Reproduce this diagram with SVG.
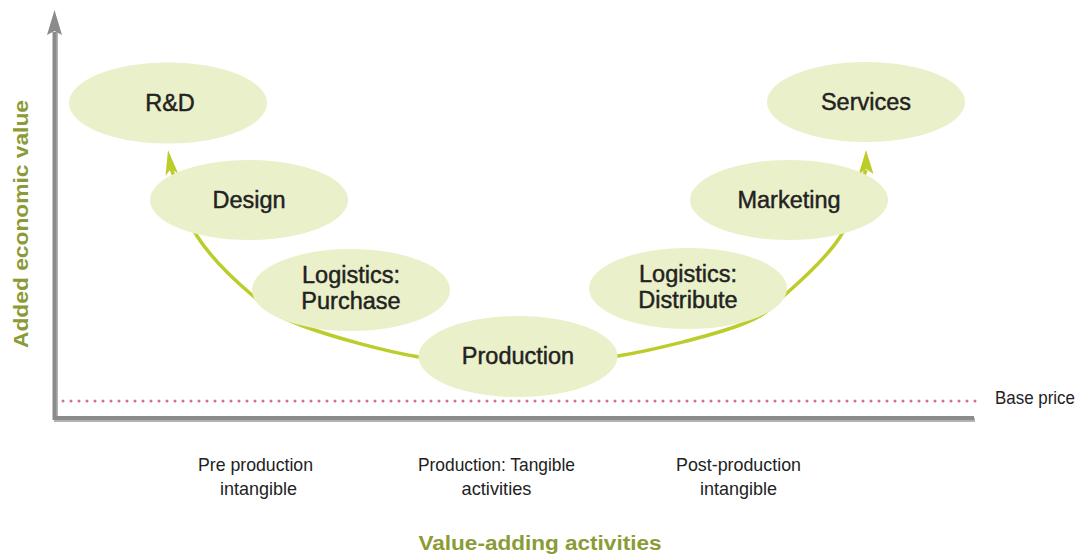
<svg xmlns="http://www.w3.org/2000/svg" width="1083" height="555" viewBox="0 0 1083 555">
<style>
.node ellipse{fill:#eaf0c9;}
.node text{font-family:"Liberation Sans",Arial,sans-serif;font-size:23.5px;fill:#222;stroke:#222;stroke-width:0.45;text-anchor:middle;}
.lbl{font-family:"Liberation Sans Narrow","Liberation Sans",Arial,sans-serif;font-size:19px;fill:#222;text-anchor:middle;}
.axlbl{font-family:"Liberation Sans",Arial,sans-serif;font-weight:bold;font-size:21px;fill:#8a9b37;text-anchor:middle;}
.curve{fill:none;stroke:#bccd2b;stroke-width:3.5;}
.head{fill:#bccd2b;}
</style>
<rect width="1083" height="555" fill="#ffffff"/>
<g id="axes">
  <polyline points="56,32 56,420 975,420" fill="none" stroke="#b3b3b5" stroke-width="4"/>
  <polyline points="54.5,32 54.5,418 974,418" fill="none" stroke="#8b8b8d" stroke-width="4"/>
  <polygon points="54.5,10 62,35 54.5,31 47,35" fill="#8b8b8d"/>
  <line x1="63" y1="401" x2="976" y2="401" stroke="#d6708f" stroke-width="3" stroke-linecap="round" stroke-dasharray="0 8"/>
  <text class="lbl" x="1035" y="404" textLength="80" lengthAdjust="spacingAndGlyphs">Base price</text>
</g>
<g id="connectors">
  <path class="curve" d="M171,168 C179.7,190.7 183.5,214.8 197,236 C210.5,257.2 234.3,280 252,295 C269.7,310 275.2,315.7 303,326 C330.8,336.3 383.2,351 419,357 C454.8,363 484.8,362.2 518,362 C551.2,361.8 581,362.2 618,356 C655,349.8 711.8,335.5 740,325 C768.2,314.5 770.3,307.7 787,293 C803.7,278.3 826.8,257.5 840,237 C853.2,216.5 857.3,192.3 866,170"/>
  <polygon class="head" points="168,150 178.3,173.7 171,168.8 165.5,175.7"/>
  <polygon class="head" points="866,150 873.5,174 866,169 858.5,175"/>
</g>
<g id="rd" class="node"><ellipse cx="168" cy="103" rx="99" ry="40.5"/><text x="170" y="111">R&amp;D</text></g>
<g id="design" class="node"><ellipse cx="249" cy="200" rx="99" ry="40"/><text x="249" y="208">Design</text></g>
<g id="purchase" class="node"><ellipse cx="351" cy="290" rx="99" ry="41"/><text x="351" y="283">Logistics:</text><text x="351" y="309">Purchase</text></g>
<g id="production" class="node"><ellipse cx="518" cy="356.5" rx="99.5" ry="40.5"/><text x="518" y="364">Production</text></g>
<g id="distribute" class="node"><ellipse cx="688" cy="288.5" rx="99" ry="40.5"/><text x="688" y="282">Logistics:</text><text x="688" y="308">Distribute</text></g>
<g id="marketing" class="node"><ellipse cx="789" cy="200" rx="99" ry="40"/><text x="789" y="208">Marketing</text></g>
<g id="services" class="node"><ellipse cx="866" cy="102" rx="99" ry="40"/><text x="866" y="110">Services</text></g>
<g id="labels">
  <text class="lbl" x="255.5" y="470.5" textLength="115" lengthAdjust="spacingAndGlyphs">Pre production</text>
  <text class="lbl" x="258.5" y="495" textLength="77" lengthAdjust="spacingAndGlyphs">intangible</text>
  <text class="lbl" x="496.5" y="470.5" textLength="157" lengthAdjust="spacingAndGlyphs">Production: Tangible</text>
  <text class="lbl" x="496.5" y="495" textLength="70" lengthAdjust="spacingAndGlyphs">activities</text>
  <text class="lbl" x="738.5" y="470.5" textLength="125" lengthAdjust="spacingAndGlyphs">Post-production</text>
  <text class="lbl" x="738.5" y="495" textLength="77" lengthAdjust="spacingAndGlyphs">intangible</text>
  <text class="axlbl" x="540" y="550" textLength="243" lengthAdjust="spacingAndGlyphs">Value-adding activities</text>
  <text class="axlbl" x="0" y="0" transform="translate(28,224) rotate(-90)" textLength="248" lengthAdjust="spacingAndGlyphs">Added economic value</text>
</g>
</svg>
